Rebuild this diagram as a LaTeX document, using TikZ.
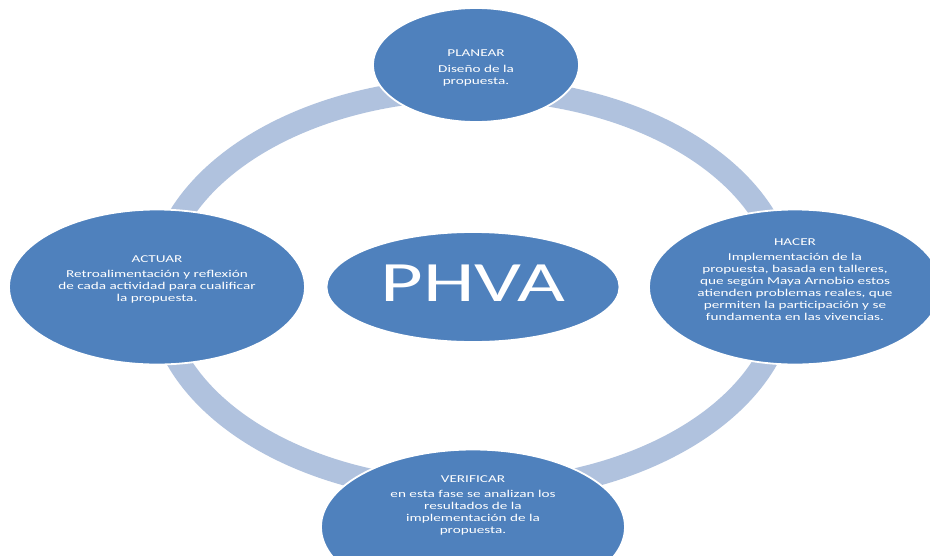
\documentclass[tikz,border=0pt]{standalone}
\usepackage{fontspec}
\setmainfont[FakeStretch=1.45]{Carlito}
\usetikzlibrary{shapes.geometric}

\definecolor{azulfase}{RGB}{79,129,189}
\definecolor{azulanillo}{RGB}{176,194,222}

\tikzset{
  fase/.style={ellipse, fill=azulfase, draw=white, line width=1.8pt, inner sep=0pt},
  textofase/.style={text=white, align=center, inner sep=0pt,
    font=\fontsize{10.5}{12}\selectfont},
  anillo/.style={draw=azulanillo, line width=23pt}
}

\begin{document}
\begin{tikzpicture}[x=1pt,y=-1pt]
    \useasboundingbox (0,0) rectangle (930,555);
    % 背景
    \fill[white] (0,0) rectangle (930,555);

    % 周回するリング（サイクルを表す）
    \draw[anillo] (472,290) ellipse (314 and 201);

    % 中央の楕円
    \node[fase, minimum width=293pt, minimum height=110pt] (phva) at (473,287) {};
    \node[textofase, font=\fontsize{57}{57}\selectfont] at ([yshift=4pt]phva) {PHVA};

    % 四つのフェーズ
    \node[fase, minimum width=206pt, minimum height=114pt] (planear) at (476,65) {};
    \node[fase, minimum width=292pt, minimum height=155pt] (hacer) at (795,287) {};
    \node[fase, minimum width=304pt, minimum height=155pt] (verificar) at (473,527) {};
    \node[fase, minimum width=296pt, minimum height=155pt] (actuar) at (157,287) {};

    % 各フェーズの説明
    \node[textofase] at ([yshift=-3pt]planear)
        {PLANEAR\\[4pt] Diseño de la\\ propuesta.};
    \node[textofase] at ([yshift=7pt]hacer)
        {HACER\\[3pt] Implementación de la\\ propuesta, basada en talleres,\\ que según Maya Arnobio estos\\ atienden problemas reales, que\\ permiten la participación y se\\ fundamenta en las vivencias.};
    \node[textofase] at ([yshift=22pt]verificar)
        {VERIFICAR\\[3pt] en esta fase se analizan los\\ resultados de la\\ implementación de la\\ propuesta.};
    \node[textofase] at ([yshift=8pt]actuar)
        {ACTUAR\\[3pt] Retroalimentación y reflexión\\ de cada actividad para cualificar\\ la propuesta.};
\end{tikzpicture}
\end{document}
